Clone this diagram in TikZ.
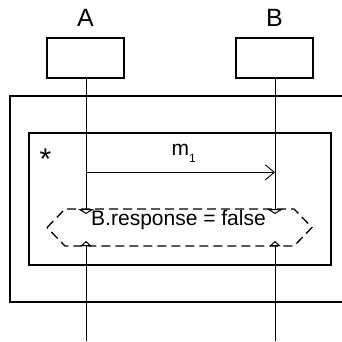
\documentclass[tikz,border=0pt]{standalone}
\usepackage{fontspec}
\setmainfont{Liberation Sans}
\usetikzlibrary{arrows.meta}
\begin{document}
\begin{tikzpicture}[x=1pt,y=-1pt,
  lifebox/.style={draw,line width=2.3pt,minimum width=77pt,minimum height=40pt,inner sep=0pt},
  objlabel/.style={anchor=base,inner sep=0pt,font=\fontsize{25}{30}\selectfont},
  frame/.style={draw,line width=1.3pt},
  lifeline/.style={draw,line width=1pt},
  msg/.style={draw,line width=0.9pt,-{Straight Barb[length=9pt,width=15pt,line width=0.9pt]}},
  txt/.style={inner sep=0pt,font=\fontsize{21}{25}\selectfont},
  cond/.style={draw,line width=1.3pt,dash pattern=on 9pt off 5pt},
  intip/.style={-{Triangle[open,length=5pt,width=16pt]}},
  outtip/.style={-{Triangle[open,length=5pt,width=11pt]}}
]
\useasboundingbox (0,0) rectangle (342,342);

% instance heads
\node[lifebox] (boxA) at (85.5,58) {};
\node[lifebox] (boxB) at (274.5,58) {};
\node[objlabel] (labA) at (85.5,27) {A};
\node[objlabel] (labB) at (274.5,27) {B};

% outer and inner frames
\draw[frame] (343,96) -- (10,96) -- (10,302) -- (343,302);
\draw[frame] (29,133) rectangle (331,265);
\node[txt,anchor=base,font=\fontsize{30}{34}\selectfont] (star) at (45.5,169.5) {*};

% condition hexagon
\coordinate (hl) at (47,227.5);
\coordinate (htl) at (65,209);
\coordinate (htr) at (294,209);
\coordinate (hr) at (312,227.5);
\coordinate (hbr) at (294,246);
\coordinate (hbl) at (65,246);
\draw[cond] (hl) -- (htl) -- (htr) -- (hr) -- (hbr) -- (hbl) -- cycle;
\node[txt,anchor=base] (cond) at (178.5,225.5) {B.response = false};

% lifelines into and out of the condition
\coordinate (aIn) at (86,214);
\coordinate (bIn) at (275,214);
\coordinate (aOut) at (86,241);
\coordinate (bOut) at (275,241);
\coordinate (aEnd) at (86,341);
\coordinate (bEnd) at (275,341);
\draw[lifeline,intip] (boxA.south -| aIn) -- (aIn);
\draw[lifeline,intip] (boxB.south -| bIn) -- (bIn);
\draw[lifeline,outtip] (aEnd) -- (aOut);
\draw[lifeline,outtip] (bEnd) -- (bOut);

% message m1
\coordinate (m1a) at (86,172.3);
\coordinate (m1b) at (275,172.3);
\draw[msg] (m1a) -- (m1b);
\node[txt,anchor=base west] (m1lab) at (171.5,155.7) {m{\fontsize{12}{14}\selectfont\raisebox{-6.3pt}{1}}};
\end{tikzpicture}
\end{document}
